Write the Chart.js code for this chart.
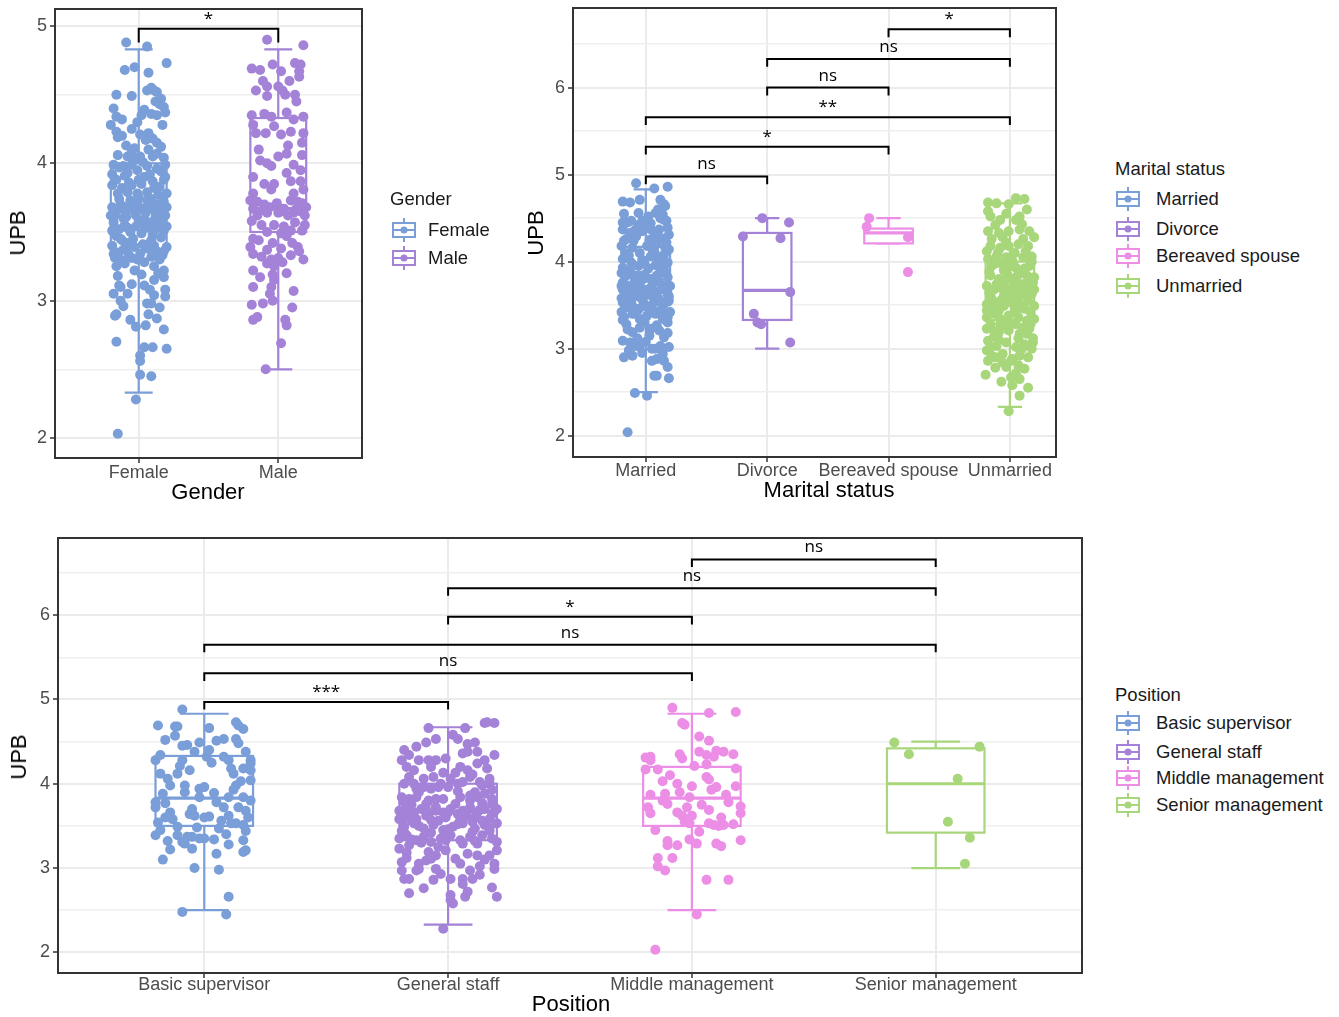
<!DOCTYPE html>
<html><head><meta charset="utf-8">
<script src="https://cdn.jsdelivr.net/npm/chart.js@4/dist/chart.umd.min.js"></script>
<style>
body{margin:0;background:#fff;width:1339px;height:1017px;position:relative;overflow:hidden;font-family:"Liberation Sans",Arial,sans-serif}
canvas{position:absolute}
.ttl{position:absolute;font-size:22px;line-height:1;color:#000;white-space:nowrap;transform:translate(-50%,-50%)}
.upb{transform:translate(-50%,-50%) rotate(-90deg)}
.lg{position:absolute;font-size:18.5px;line-height:1;color:#1a1a1a;white-space:nowrap}
.lg svg{position:absolute;left:0;top:-13px}
.lg span{position:absolute;top:-9px}
</style></head><body>
<canvas id="c1" width="370" height="510" style="left:0;top:0"></canvas>
<canvas id="c2" width="580" height="510" style="left:520px;top:0"></canvas>
<canvas id="c3" width="1100" height="497" style="left:0;top:520px"></canvas>
<div class="ttl" style="left:208px;top:492px">Gender</div>
<div class="ttl upb" style="left:18px;top:233px">UPB</div>
<div class="ttl" style="left:829px;top:490px">Marital status</div>
<div class="ttl upb" style="left:536px;top:233px">UPB</div>
<div class="ttl" style="left:571px;top:1004px">Position</div>
<div class="ttl upb" style="left:19px;top:757px">UPB</div>
<div id="legends"></div>
<script>
/* ── data ── */
const COLORS=['#7A9ED8','#A382D8','#EC8EE6','#A8D67A'];

const genderCats=['Female','Male'];
const maritalCats=['Married','Divorce','Bereaved spouse','Unmarried'];
const positionCats=['Basic supervisor','General staff','Middle management','Senior management'];

// box stats: [lower whisker, q1, median, q3, upper whisker]
const genderStats=[[2.33,3.37,3.67,4.0,4.83],[2.5,3.5,3.67,4.33,4.83]];
const maritalStats=[[2.5,3.5,3.67,4.17,4.83],[3.0,3.33,3.67,4.33,4.5],[4.21,4.21,4.33,4.38,4.5],[2.33,3.33,3.67,4.0,4.67]];
const positionStats=[[2.5,3.5,3.83,4.33,4.83],[2.33,3.33,3.67,4.0,4.67],[2.5,3.5,3.83,4.2,4.83],[3.0,3.42,4.0,4.42,4.5]];

// significance brackets: [from, to, height, label]
const genderSig=[[0,1,4.98,'*']];
const maritalSig=[[0,1,4.98,'ns'],[0,2,5.32,'*'],[0,3,5.66,'**'],[1,2,6.0,'ns'],[1,3,6.33,'ns'],[2,3,6.67,'*']];
const positionSig=[[0,1,4.97,'***'],[0,2,5.31,'ns'],[0,3,5.65,'ns'],[1,2,5.98,'*'],[1,3,6.32,'ns'],[2,3,6.66,'ns']];

// jittered observations: [x offset from category, UPB]
const femalePts=[[-.09,4.88],[.06,4.85],[-.1,4.68],[-.03,4.70],[.07,4.66],[.2,4.73],
[-.16,4.5],[-.05,4.49],[.06,4.53],[.11,4.53],[.16,4.47],[.09,4.55],[.13,4.52],
[.18,4.41],[-.18,4.4],[-.16,4.34],[-.12,4.32],[-.01,4.3],[.04,4.39],[.09,4.36],[.13,4.35],[.17,4.28],[.19,4.37],[.15,4.43],
[-.16,4.23],[-.15,4.19],[.01,4.21],[.07,4.22],[.13,4.15],[.10,4.18],[-.09,4.13],[-.03,4.11],[.05,4.17],
[-.15,4.06],[-.08,4.05],[.01,4.05],[.1,4.05],[.18,4.04],[-.05,4.08],[.13,4.07],
[-.18,3.99],[-.11,3.98],[-.05,3.99],[-.01,3.95],[.06,3.98],[.13,3.96],[.19,3.99],[-.14,3.97],[.03,4.01],[.16,3.94],[-.08,3.93],
[-.16,3.88],[-.12,3.82],[-.05,3.84],[.02,3.85],[.1,3.87],[.18,3.88],[-.15,3.78],[-.08,3.79],[-.01,3.78],[.06,3.79],[.14,3.77],[.2,3.78],[-.19,3.84],[.04,3.9],[.15,3.83],
[-.19,3.68],[-.16,3.66],[-.13,3.7],[-.1,3.65],[-.07,3.69],[-.04,3.66],[-.01,3.71],[.02,3.67],[.05,3.64],[.08,3.69],[.11,3.66],[.14,3.7],[.17,3.65],[.2,3.68],[-.17,3.62],[-.02,3.62],[.12,3.61],[.18,3.72],[-.09,3.61],[.06,3.73],
[-.18,3.57],[-.14,3.52],[-.1,3.55],[-.06,3.5],[-.02,3.54],[.02,3.49],[.06,3.53],[.1,3.48],[.14,3.55],[.18,3.51],[-.16,3.47],[-.04,3.45],[.08,3.57],[.16,3.46],[-.12,3.44],[0,3.58],[.2,3.54],
[-.19,3.4],[-.15,3.35],[-.11,3.37],[-.07,3.33],[-.03,3.39],[.01,3.34],[.05,3.38],[.09,3.32],[.13,3.36],[.17,3.33],[.2,3.39],[-.17,3.31],[-.05,3.31],[.07,3.41],[.15,3.3],[-.09,3.42],[.11,3.4],
[-.1,3.27],[-.03,3.22],[.11,3.25],[.18,3.22],[-.16,3.25],[.04,3.28],[.14,3.2],
[-.14,3.11],[-.08,3.05],[-.18,3.05],[.04,3.11],[.11,3.15],[.18,3.17],[.19,3.08],[.19,3.03],[.11,3.04],[-.13,3.1],
[-.16,2.9],[-.13,3.0],[-.06,2.86],[-.02,2.81],[.06,2.98],[.07,2.9],[.13,2.87],[.05,2.82],[.18,2.79],[-.17,2.89],[.09,2.98],
[-.16,2.7],[.04,2.66],[.1,2.66],[.2,2.65],[.01,2.6],[.01,2.56],
[.01,2.46],[.09,2.45],[-.02,2.28],[-.15,2.03],
[-.2,3.62],[-.14,3.74],[-.06,3.73],[0,3.75],[.09,3.74],[.17,3.6],[-.11,3.6],[.04,3.59],[.19,3.62],[-.19,3.51],[-.08,3.53],
[.04,3.55],[.12,3.52],[-.13,3.45],[.09,3.44],[-.18,3.34],[-.13,3.3],[-.01,3.3],[.03,3.41],[.1,3.35],[.18,3.36],[-.06,3.41],
[-.19,3.92],[-.1,3.91],[0,3.88],[.08,3.92],[.19,3.9],[-.03,4.03],[.07,4.1],[.16,4.12],[-.12,4.2],[-.05,4.25],[.02,4.35],
[.12,4.45],[-.2,4.28],[.11,3.82],[-.07,3.86],[.06,3.68],[-.15,3.18],[.02,3.19],[.08,3.08],[-.05,3.12],[-.11,2.96],[.15,2.95]];

const malePts=[[-.08,4.9],[.18,4.86],
[-.19,4.69],[-.13,4.68],[-.04,4.72],[.02,4.67],[.12,4.73],[.16,4.72],[.15,4.67],[.15,4.63],
[-.16,4.53],[-.08,4.49],[0,4.56],[.03,4.53],[.05,4.5],[.12,4.5],[-.08,4.56],
[-.19,4.35],[-.1,4.36],[-.05,4.34],[.06,4.37],[.11,4.32],[.18,4.34],[-.16,4.22],[-.09,4.22],[.02,4.21],[.09,4.23],[.18,4.22],[-.18,4.28],[.17,4.15],
[0,4.05],[-.13,4.02],[-.08,4.0],[.06,4.07],[.11,3.99],[.17,4.06],[.16,3.95],[-.05,3.98],
[-.18,3.9],[-.1,3.85],[.09,3.87],[.16,3.87],[-.05,3.81],[.18,3.81],[-.18,3.78],
[-.2,3.73],[-.15,3.72],[-.1,3.70],[-.06,3.68],[-.01,3.71],[.04,3.67],[.09,3.73],[.14,3.72],[.17,3.71],[.2,3.68],[-.18,3.67],[.02,3.65],[.11,3.64],[.16,3.65],[-.08,3.64],
[-.03,3.55],[.04,3.54],[.09,3.51],[.02,3.49],[.06,3.47],[-.18,3.45],[.17,3.51],[-.08,3.5],
[-.2,3.39],[-.18,3.34],[-.08,3.37],[-.12,3.32],[-.05,3.3],[0,3.31],[-.03,3.25],[.14,3.39],[.15,3.36],[.18,3.3],[-.08,3.27],[.02,3.38],
[-.18,3.22],[-.04,3.19],[.06,3.2],[-.18,3.1],[-.05,3.1],[.11,3.07],[-.03,3.15],
[-.19,2.97],[-.11,2.98],[-.04,3.0],[-.15,2.88],[-.18,2.86],[.05,2.86],[.06,2.82],
[.02,2.69],[-.09,2.5],
[-.15,3.62],[-.11,3.66],[0,3.64],[.07,3.62],[.13,3.67],[.19,3.62],[-.19,3.58],[-.12,3.55],[.12,3.57],[.19,3.55],
[-.14,3.44],[.1,3.42],[-.04,3.42],[.03,3.28],[.09,3.33],[-.13,3.17],[.11,3.78],[-.03,3.85],[.06,3.93],[-.14,4.1],
[.07,4.13],[-.03,4.27],[.13,4.45],[-.11,4.6],[.08,4.6],[-.06,3.05],[.1,2.95]];

const marriedPts=[[-.08,4.9],[.07,4.84],[.18,4.86],[-.19,4.69],[-.13,4.68],[-.05,4.71],[.12,4.71],[.15,4.66],[.16,4.64],
[-.06,4.56],[.02,4.52],[.08,4.56],[.12,4.5],[.15,4.48],[-.03,4.47],
[-.19,4.37],[-.13,4.33],[-.03,4.35],[.04,4.37],[.11,4.37],[.18,4.39],[.19,4.31],[-.16,4.26],[-.08,4.29],
[-.2,4.18],[-.11,4.16],[.01,4.18],[.09,4.2],[.16,4.16],[.19,4.14],[-.05,4.1],
[-.19,4.03],[-.12,3.99],[-.06,3.95],[.04,4.06],[.12,4.05],[.18,3.99],[-.01,3.85],[.12,3.87],
[-.2,3.87],[-.16,3.84],[-.06,3.84],[.04,3.8],[.09,3.84],[.18,3.82],[-.19,3.76],
[-.2,3.72],[-.19,3.68],[-.13,3.7],[-.08,3.65],[-.02,3.68],[.04,3.7],[.09,3.66],[.15,3.72],[.2,3.72],
[-.16,3.61],[-.05,3.59],[.07,3.59],[.18,3.63],
[-.19,3.53],[-.11,3.49],[-.02,3.53],[.07,3.55],[.15,3.51],[.19,3.55],[-.06,3.45],[.04,3.44],
[-.2,3.42],[-.18,3.36],[-.11,3.4],[-.05,3.34],[.01,3.38],[.08,3.4],[.14,3.34],[.18,3.36],[.18,3.3],[-.16,3.28],
[-.05,3.24],[.04,3.23],[.11,3.21],[-.11,3.19],
[-.19,3.09],[-.13,3.07],[-.09,3.03],[-.05,3.02],[.08,3.0],[.12,3.03],[.19,3.02],[-.14,2.98],[-.18,2.9],[.05,3.0],
[.09,2.88],[.05,2.86],[.15,2.86],[.18,2.79],[.09,2.69],[.19,2.66],[.07,2.69],
[-.09,2.49],[.01,2.46],[-.15,2.04],
[-.15,4.45],[.04,4.44],[-.1,4.24],[.13,4.27],[-.17,4.1],[.07,4.12],[-.03,4.02],[.15,3.95],[-.13,3.9],[.02,3.92],
[-.09,3.78],[.11,3.77],[.19,3.6],[-.14,3.56],[.02,3.62],[.13,3.45],[-.17,3.47],[-.01,3.31],[.09,3.27],[-.07,3.12],
[.15,3.13],[.03,3.15],[-.19,3.33],[.17,4.22],[-.06,4.42],[.1,4.03],[-.12,3.62],[.06,3.76],[-.02,3.49],[.16,3.38],
[-.18,4.55],[.1,4.6],[-.12,4.47],[0,4.42],[.17,4.47],[-.09,4.36],[.07,4.3],[-.18,4.24],[.03,4.25],[-.14,4.07],
[.15,4.08],[-.01,3.98],[-.19,3.93],[.08,3.96],[-.1,3.84],[.16,3.88],[-.16,3.73],[-.05,3.74],[.13,3.68],[0,3.64],
[-.12,3.55],[.11,3.57],[-.2,3.58],[.05,3.5],[-.08,3.4],[.2,3.42],[.12,3.4],[-.15,3.22],[.18,3.18],[0,3.08],
[-.03,2.95],[.14,2.94],[-.11,2.92],[.18,3.7],[-.07,3.7],[.06,3.44],[-.19,4.45],[.14,4.54],[.05,4.15],[-.02,3.8]];

const divorcePts=[[-.04,4.5],[-.2,4.29],[.18,4.45],[.11,4.27],[.19,3.65],[-.11,3.4],[-.05,3.28],[-.08,3.3],[.19,3.07]];
const bereavedPts=[[-.16,4.5],[-.18,4.4],[.16,4.28],[.16,3.88]];

const unmarriedPts=[[.05,4.73],[.12,4.72],[-.18,4.68],[-.11,4.67],[-.01,4.66],[.08,4.52],[-.16,4.52],[-.08,4.48],[.05,4.48],
[-.18,4.35],[-.09,4.33],[-.01,4.35],[.08,4.37],[.16,4.35],[-.15,4.26],[-.03,4.22],[.11,4.26],
[-.16,4.18],[-.08,4.16],[-.01,4.18],[.07,4.2],[.15,4.18],
[-.18,4.03],[-.11,4.06],[-.03,4.05],[.02,4.01],[.11,4.05],[.18,4.06],[-.15,3.95],[.05,3.93],[.16,3.95],
[-.16,3.84],[-.09,3.8],[-.02,3.85],[.05,3.82],[.14,3.84],[.2,3.82],
[-.19,3.72],[-.13,3.68],[-.08,3.7],[-.02,3.68],[.04,3.72],[.09,3.66],[.16,3.7],[.2,3.68],[-.16,3.61],[-.05,3.61],[.07,3.59],[.18,3.63],
[-.19,3.51],[-.12,3.53],[-.05,3.49],[.01,3.53],[.08,3.51],[.15,3.55],[.2,3.49],[-.09,3.44],[.05,3.42],
[-.19,3.36],[-.13,3.4],[-.08,3.34],[-.01,3.38],[.07,3.36],[.14,3.32],[.2,3.34],[-.16,3.28],[-.03,3.26],[.11,3.24],
[-.19,3.23],[-.09,3.19],[-.01,3.21],[.08,3.17],[.16,3.23],
[-.18,3.09],[-.11,3.03],[-.03,3.07],[.05,3.02],[.12,3.05],[.19,3.07],
[-.19,2.98],[-.12,2.9],[-.06,2.94],[.01,2.86],[.08,2.92],[-.18,2.86],[-.06,2.84],[.02,2.88],[.07,2.81],[-.03,2.79],
[-.2,2.7],[.01,2.67],[.08,2.65],[.02,2.58],[.08,2.46],[-.01,2.28],
[-.12,3.98],[.09,3.88],[-.04,3.78],[.14,3.76],[-.17,3.64],[.03,3.64],[.12,3.46],[-.14,3.47],[0,3.3],[.17,3.28],
[-.07,3.56],[.1,3.74],[-.1,4.1],[.13,4.12],[-.05,3.9],[.07,3.12],[-.13,3.14],[.18,3.0],
[-.18,4.58],[.14,4.6],[-.03,4.55],[-.12,4.42],[.1,4.43],[.2,4.28],[-.06,4.28],[-.19,4.12],[.04,4.1],[-.07,3.98],
[.18,4.0],[-.17,3.88],[-.01,3.94],[.12,3.92],[-.11,3.74],[.02,3.78],[.19,3.76],[-.15,3.57],[.11,3.62],[-.02,3.58],
[.17,3.42],[-.19,3.44],[-.08,3.28],[.05,3.28],[.14,3.17],[-.13,3.2],[.1,3.0],[-.09,3.1],[.15,2.9],[-.15,2.92],
[.12,2.77],[-.12,2.78],[.05,2.72],[-.07,2.62],[.15,2.55],[.04,3.46],[-.04,3.66],[.07,3.85],[-.16,3.02],[.19,3.12]];

const basicPts=[[-.09,4.88],[-.19,4.69],[-.12,4.68],[-.11,4.68],[.02,4.66],[.13,4.73],[.16,4.65],[.14,4.69],
[-.16,4.52],[-.09,4.45],[-.07,4.46],[-.02,4.49],[.05,4.51],[.08,4.53],[.13,4.53],[.14,4.48],
[-.2,4.28],[-.18,4.34],[-.04,4.38],[.01,4.32],[.08,4.32],[.1,4.28],[.17,4.38],[.19,4.28],[-.09,4.28],
[-.1,4.21],[.11,4.18],[.19,4.24],[.16,4.18],[.19,4.16],[.19,4.04],
[-.15,4.06],[-.14,3.98],[-.11,4.12],[-.08,3.98],[-.02,3.94],[0,3.96],[.04,3.89],[.13,3.98],
[-.17,3.88],[-.2,3.78],[-.16,3.77],[-.02,3.84],[.1,3.84],[.16,3.84],[.19,3.8],[.14,3.72],
[-.2,3.72],[-.14,3.66],[-.06,3.64],[-.04,3.62],[0,3.6],[.02,3.61],[.08,3.72],[.1,3.62],[.13,3.53],[.17,3.68],
[-.11,3.49],[.06,3.47],[.11,3.53],[.16,3.51],
[-.2,3.39],[-.18,3.45],[-.11,3.39],[-.09,3.31],[-.07,3.37],[-.05,3.37],[-.02,3.35],[0,3.35],[.04,3.34],[-.08,3.29],[-.05,3.23],[.16,3.33],
[.05,3.17],[.16,3.19],[.17,3.21],[-.17,3.1],[-.04,3.0],[.06,2.98],[.1,2.66],[-.09,2.48],[.09,2.45],
[.07,3.56],[-.13,3.58],[.12,4.12],[-.06,4.16],[.03,4.25],[.18,3.6],[-.15,3.32],
[-.16,3.6],[.05,3.78],[-.08,3.9],[.12,3.93],[-.18,4.12],[.02,4.4],[-.12,4.57],[.17,3.44],[-.03,3.48],[.09,3.4],
[-.19,3.54],[.15,4.03],[-.05,3.7],[.1,3.28],[-.14,3.22]];

const generalPts=[[.15,4.72],[.16,4.73],[.19,4.72],[-.08,4.66],[.07,4.66],
[-.05,4.53],[-.09,4.49],[.04,4.53],[.08,4.47],[.11,4.49],
[-.18,4.4],[-.16,4.34],[-.12,4.28],[-.08,4.28],[-.05,4.28],[-.01,4.3],[.06,4.36],[.08,4.38],[.12,4.38],[.19,4.34],[.15,4.28],[-.19,4.28],
[-.17,4.2],[-.14,4.16],[.05,4.2],[.08,4.16],[.12,4.24],
[-.1,4.06],[-.06,4.08],[-.03,4.0],[.01,4.06],[.04,4.0],[.06,4.02],[.09,4.08],[.13,4.02],[.17,4.06],[.17,4.0],[-.18,4.0],[-.14,4.0],[-.1,3.96],[-.07,3.94],[-.04,3.96],
[-.19,3.84],[-.16,3.82],[-.13,3.84],[-.08,3.8],[-.05,3.82],[.05,3.84],[.09,3.8],[.12,3.84],[.15,3.88],[.18,3.82],[.11,3.9],
[-.2,3.68],[-.17,3.72],[-.14,3.66],[-.11,3.7],[-.08,3.64],[-.05,3.68],[-.02,3.66],[.01,3.7],[.04,3.64],[.06,3.68],[.09,3.72],[.12,3.66],[.15,3.7],[.18,3.64],[.2,3.7],
[-.18,3.6],[-.13,3.58],[-.07,3.57],[-.01,3.6],[.05,3.57],[.11,3.6],[.17,3.58],
[-.18,3.49],[-.14,3.53],[-.1,3.47],[-.06,3.51],[-.02,3.45],[.02,3.49],[.06,3.53],[.11,3.47],[.15,3.51],[.2,3.53],
[-.2,3.35],[-.17,3.39],[-.13,3.33],[-.1,3.37],[-.07,3.31],[-.03,3.35],[.01,3.39],[.05,3.33],[.09,3.37],[.14,3.39],[.18,3.35],[-.16,3.27],[-.04,3.25],[.06,3.29],
[-.2,3.23],[-.08,3.19],[-.05,3.15],[.03,3.11],[.08,3.17],[.12,3.15],[.2,3.21],[-.01,3.21],
[-.19,3.07],[-.13,2.97],[-.12,2.99],[-.09,3.09],[-.07,3.11],[.09,2.97],[.19,3.05],[.19,2.99],[-.19,2.97],
[-.18,2.87],[-.16,2.87],[-.06,2.86],[.01,2.87],[.06,2.87],[.1,2.87],[.06,2.81],
[-.16,2.7],[.01,2.68],[.07,2.66],[.18,2.77],[.2,2.66],[.02,2.58],[.01,2.62],[-.02,2.28],
[-.15,3.75],[.03,3.76],[.14,3.77],[-.09,3.62],[.08,3.61],[-.18,3.42],[0,3.43],[.17,3.44],[-.11,3.3],[.12,3.29],
[-.05,3.72],[.1,3.55],[-.15,3.56],[.04,3.91],[-.12,3.9],[.18,3.93],[-.02,4.13],[.1,4.11],[-.13,4.44],[.02,4.58],
[-.17,3.12],[.15,3.1],[-.03,2.93],[.13,2.92],
[-.16,3.65],[-.09,3.69],[0,3.66],[.07,3.65],[.13,3.69],[.19,3.67],[-.2,3.58],[-.04,3.56],[.14,3.56],[-.12,3.5],
[.04,3.52],[.17,3.47],[-.19,3.44],[-.07,3.42],[.1,3.43],[-.15,3.34],[-.01,3.33],[.11,3.32],[.2,3.31],[-.18,3.78],
[-.09,3.76],[.09,3.86],[-.02,3.82],[.18,3.76],[-.13,3.94],[0,3.96],[.14,3.98],[-.16,4.08],[.03,4.13],[-.07,4.2],
[.16,4.18],[-.12,3.05],[.05,3.05],[.13,3.02],[-.05,2.99],[-.17,3.18],[.17,3.15],[.08,2.72],[-.1,2.76],[0,3.46]];

const middlePts=[[-.08,4.9],[.07,4.84],[.18,4.85],[-.04,4.72],[-.03,4.7],[.03,4.56],[.07,4.51],
[-.19,4.31],[-.17,4.28],[-.17,4.32],[-.05,4.35],[-.04,4.3],[.03,4.38],[.06,4.34],[.09,4.32],[.1,4.39],[.13,4.38],[.17,4.35],[.01,4.21],[.06,4.23],
[-.19,4.17],[-.14,4.17],[.06,4.08],[.07,4.05],
[-.12,4.03],[-.06,4.0],[0,3.97],[.1,3.96],[.18,3.97],[.08,3.93],
[-.17,3.87],[-.11,3.88],[.14,3.87],[-.01,3.84],[-.1,3.76],[-.18,3.72],[-.17,3.65],
[-.06,3.66],[-.02,3.72],[-.04,3.62],[0,3.62],[.07,3.69],[.2,3.73],[.2,3.65],
[-.03,3.55],[-.01,3.53],[.07,3.53],[.09,3.51],[.11,3.5],[.13,3.51],[.17,3.52],
[.03,3.43],[-.1,3.32],[-.1,3.27],[-.06,3.27],[-.01,3.34],[.02,3.29],[.1,3.29],[.12,3.26],[.2,3.33],
[-.14,3.12],[-.08,3.12],[-.14,3.02],[-.11,2.97],[.06,2.86],[.15,2.86],[.02,2.45],[-.15,2.03],
[-.12,3.8],[.15,3.78],[-.05,3.9],[.12,3.6],[-.15,3.45],[.04,3.75],[-.09,4.1],[.18,4.18]];

const seniorPts=[[-.17,4.49],[-.11,4.35],[.18,4.44],[.09,4.06],[.05,3.55],[.14,3.36],[.12,3.05]];

/* ── drawing ── */
Chart.defaults.font.family='"Liberation Sans", Arial, sans-serif';

const boxPlugin={
  id:'boxes',
  beforeDatasetsDraw(chart,args,o){
    const {ctx,scales:{x,y}}=chart;
    o.stats.forEach((s,i)=>{
      const [lo,q1,md,q3,hi]=s, c=COLORS[i];
      const cx=x.getPixelForValue(i), hw=x.getPixelForValue(i+0.2)-cx, cw=x.getPixelForValue(i+0.1)-cx;
      const pLo=y.getPixelForValue(lo),pQ1=y.getPixelForValue(q1),pMd=y.getPixelForValue(md),pQ3=y.getPixelForValue(q3),pHi=y.getPixelForValue(hi);
      ctx.save();ctx.strokeStyle=c;ctx.lineWidth=2.2;
      ctx.beginPath();
      ctx.moveTo(cx,pHi);ctx.lineTo(cx,pQ3);ctx.moveTo(cx,pQ1);ctx.lineTo(cx,pLo);
      ctx.moveTo(cx-cw,pHi);ctx.lineTo(cx+cw,pHi);ctx.moveTo(cx-cw,pLo);ctx.lineTo(cx+cw,pLo);
      ctx.stroke();
      ctx.fillStyle='#fff';ctx.fillRect(cx-hw,pQ3,2*hw,pQ1-pQ3);
      ctx.strokeRect(cx-hw,pQ3,2*hw,pQ1-pQ3);
      ctx.lineWidth=3.2;ctx.beginPath();ctx.moveTo(cx-hw,pMd);ctx.lineTo(cx+hw,pMd);ctx.stroke();
      ctx.restore();
    });
  },
  afterDatasetsDraw(chart,args,o){
    const {ctx,chartArea:a,scales:{x,y}}=chart;
    ctx.save();
    ctx.strokeStyle='#000';ctx.fillStyle='#000';ctx.lineWidth=2;
    ctx.font='17px "Open Sans", sans-serif';ctx.textAlign='center';ctx.textBaseline='alphabetic';
    o.sig.forEach(([p,q,v,lab])=>{
      const x1=x.getPixelForValue(p),x2=x.getPixelForValue(q),yy=y.getPixelForValue(v),yt=y.getPixelForValue(v-o.tick);
      ctx.beginPath();ctx.moveTo(x1,yt);ctx.lineTo(x1,yy);ctx.lineTo(x2,yy);ctx.lineTo(x2,yt);ctx.stroke();
      ctx.fillText(lab,(x1+x2)/2,yy-(lab==='ns'?7:5));
    });
    ctx.strokeStyle='#333';ctx.lineWidth=2;
    ctx.strokeRect(a.left,a.top,a.right-a.left,a.bottom-a.top);
    ctx.restore();
  }
};

function makeChart(id,cats,groups,stats,sig,cfg){
  const datasets=groups.map((pts,i)=>({
    data:pts.map(([dx,v])=>({x:i+dx,y:v})),
    backgroundColor:COLORS[i],borderWidth:0,pointRadius:5,pointHoverRadius:5
  }));
  const major=c=>Number.isInteger(c.tick.value);
  return new Chart(document.getElementById(id),{
    type:'scatter',
    data:{datasets},
    options:{
      responsive:false,animation:false,events:[],
      layout:{padding:{top:cfg.top,right:cfg.right,left:0,bottom:0}},
      plugins:{legend:{display:false},tooltip:{enabled:false},boxes:{stats,sig,tick:cfg.tick}},
      scales:{
        x:{type:'linear',min:-0.6,max:cfg.xmax,
          ticks:{stepSize:1,includeBounds:false,autoSkip:false,maxRotation:0,minRotation:0,padding:cfg.xpad,
            color:'#4D4D4D',font:{size:18},callback:v=>cats[v]??''},
          grid:{color:'#EBEBEB',lineWidth:2,tickLength:5,tickColor:'#333',tickWidth:1.5},
          border:{display:false},
          afterFit:s=>{s.height=cfg.xh;s.paddingLeft=0;s.paddingRight=0;}},
        y:{type:'linear',min:cfg.ymin,max:cfg.ymax,
          ticks:{stepSize:0.5,includeBounds:false,padding:3,color:'#4D4D4D',font:{size:18},
            callback:v=>Number.isInteger(v)?String(v):''},
          grid:{color:c=>major(c)?'#EBEBEB':'#EFEFEF',lineWidth:c=>major(c)?2:1.5,tickLength:5,
            tickColor:c=>major(c)?'#333':'rgba(0,0,0,0)',tickWidth:1.5},
          border:{display:false},
          afterFit:s=>{s.width=cfg.yw;s.paddingTop=0;s.paddingBottom=0;}}
      }
    },
    plugins:[boxPlugin]
  });
}

makeChart('c1',genderCats,[femalePts,malePts],genderStats,genderSig,
  {top:9,right:8,xh:52,yw:55,xmax:1.6,ymin:1.854,ymax:5.124,tick:0.1,xpad:-1});
makeChart('c2',maritalCats,[marriedPts,divorcePts,bereavedPts,unmarriedPts],maritalStats,maritalSig,
  {top:8,right:44,xh:53,yw:53,xmax:3.38,ymin:1.755,ymax:6.915,tick:0.09,xpad:-2});
makeChart('c3',positionCats,[basicPts,generalPts,middlePts,seniorPts],positionStats,positionSig,
  {top:18,right:18,xh:44,yw:58,xmax:3.6,ymin:1.755,ymax:6.915,tick:0.09,xpad:-4});

/* ── legends ── */
function icon(c){
  return `<svg width="26" height="26" viewBox="0 0 26 26"><line x1="13" y1="1" x2="13" y2="25" stroke="${c}" stroke-width="2"/>`+
    `<rect x="2" y="6" width="22" height="14" fill="#fff" stroke="${c}" stroke-width="2"/>`+
    `<line x1="2" y1="13" x2="24" y2="13" stroke="${c}" stroke-width="2"/><circle cx="13" cy="13" r="3.5" fill="${c}"/></svg>`;
}
function legend(title,names,titleX,iconX,textX,titleY,ys){
  let h=`<div class="lg" style="left:${titleX}px;top:${titleY-9}px">${title}</div>`;
  names.forEach((n,i)=>{
    h+=`<div class="lg" style="left:${iconX}px;top:${ys[i]}px">${icon(COLORS[i])}<span style="left:${textX-iconX}px">${n}</span></div>`;
  });
  document.getElementById('legends').insertAdjacentHTML('beforeend',h);
}
legend('Gender',genderCats,390,391,428,199,[230,258]);
legend('Marital status',maritalCats,1115,1115,1156,169,[199,229,256,286]);
legend('Position',positionCats,1115,1115,1156,695,[723,752,778,805]);
</script>
</body></html>
